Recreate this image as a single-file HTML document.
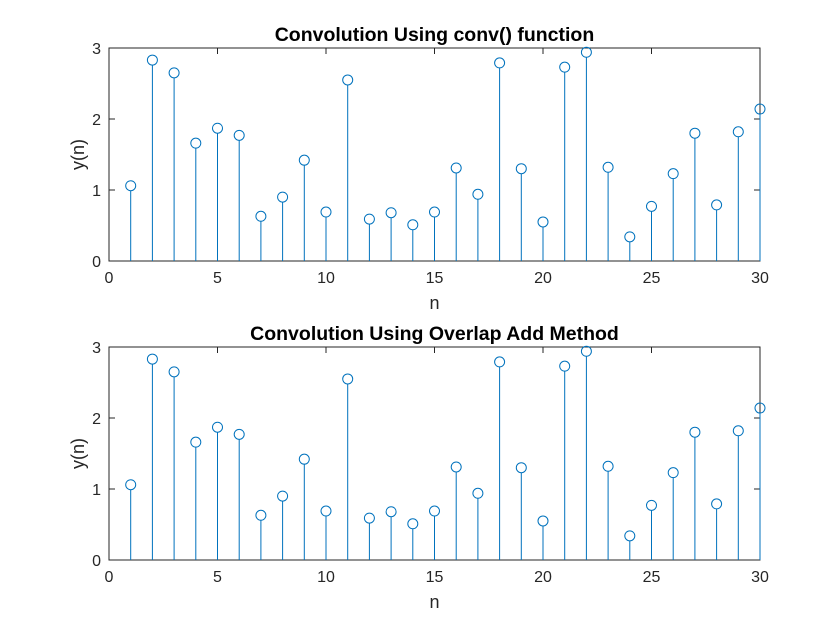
<!DOCTYPE html>
<html><head><meta charset="utf-8"><style>
body{margin:0;background:#fff;}
svg{display:block;font-family:"Liberation Sans",Arial,sans-serif;}
</style></head><body>
<svg id="fig" width="840" height="630"></svg>
<script>
const nVals=[1,2,3,4,5,6,7,8,9,10,11,12,13,14,15,16,17,18,19,20,21,22,23,24,25,26,27,28,29,30];
const yConv=[1.06,2.83,2.65,1.66,1.87,1.77,0.63,0.90,1.42,0.69,2.55,0.59,0.68,0.51,0.69,1.31,0.94,2.79,1.30,0.55,2.73,2.94,1.32,0.34,0.77,1.23,1.80,0.79,1.82,2.14];
const yOla=[1.06,2.83,2.65,1.66,1.87,1.77,0.63,0.90,1.42,0.69,2.55,0.59,0.68,0.51,0.69,1.31,0.94,2.79,1.30,0.55,2.73,2.94,1.32,0.34,0.77,1.23,1.80,0.79,1.82,2.14];
const xTicks=[0,5,10,15,20,25,30];
const yTicks=[0,1,2,3];
const titles=["Convolution Using conv() function","Convolution Using Overlap Add Method"];
const NS="http://www.w3.org/2000/svg";
const svg=document.getElementById('fig');
function mk(t,a,p){const e=document.createElementNS(NS,t);for(const k in a)e.setAttribute(k,a[k]);(p||svg).appendChild(e);return e;}
function panel(top,vals,title,idx){
  const L=109,R=760,T=top,B=top+213;
  const g=mk('g',{});
  
  
  const sx=v=>L+(v-0)/30*(R-L);
  const sy=v=>B-(v-0)/3*(B-T);
  const box=mk('rect',{x:L,y:T,width:R-L,height:B-T,fill:'#fff',stroke:'#262626','stroke-width':1},g);
  
  
  xTicks.forEach(t=>{
    mk('line',{x1:sx(t),x2:sx(t),y1:B,y2:B-6,stroke:'#262626'},g);
    mk('line',{x1:sx(t),x2:sx(t),y1:T,y2:T+6,stroke:'#262626'},g);
    const tx=mk('text',{x:sx(t),y:B+22,'text-anchor':'middle','font-size':16,fill:'#262626'},g);
    tx.textContent=t;
    
    
  });
  yTicks.forEach(t=>{
    mk('line',{x1:L,x2:L+6,y1:sy(t),y2:sy(t),stroke:'#262626'},g);
    mk('line',{x1:R,x2:R-6,y1:sy(t),y2:sy(t),stroke:'#262626'},g);
    const tx=mk('text',{x:L-8,y:sy(t)+6,'text-anchor':'end','font-size':16,fill:'#262626'},g);
    tx.textContent=t;
    
    
  });
  nVals.forEach((n,i)=>{
    const ln=mk('line',{x1:sx(n),x2:sx(n),y1:sy(0),y2:sy(vals[i])+5,stroke:'#0072BD','stroke-width':1},g);
    
    
    const c=mk('circle',{cx:sx(n),cy:sy(vals[i]),r:5,fill:'none',stroke:'#0072BD','stroke-width':1},g);
    
    
  });
  const tt=mk('text',{x:(L+R)/2,y:T-7,'text-anchor':'middle','font-size':19.5,'font-weight':'bold',fill:'#000'},g);
  tt.textContent=title;
  
  
  const xl=mk('text',{x:(L+R)/2,y:B+48,'text-anchor':'middle','font-size':18,fill:'#262626'},g);
  xl.textContent='n';
  
  
  const yl=mk('text',{x:0,y:0,'text-anchor':'middle','font-size':18,fill:'#262626',transform:`translate(84,${(T+B)/2}) rotate(-90)`},g);
  yl.textContent='y(n)';
  
  
}
panel(48,yConv,titles[0],0);
panel(347,yOla,titles[1],1);
</script>
</body></html>
